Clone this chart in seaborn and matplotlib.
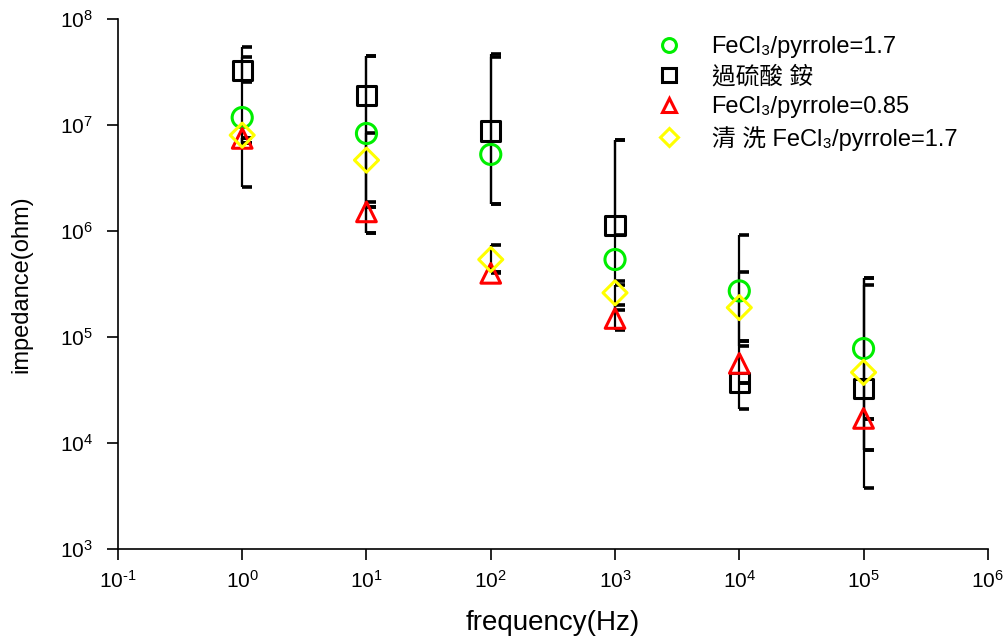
import matplotlib
matplotlib.use("Agg")
import matplotlib.pyplot as plt
import seaborn as sns
import numpy as np
import pandas as pd
from matplotlib.lines import Line2D
from matplotlib.ticker import LogLocator, NullLocator, FuncFormatter

# ---------------- data ----------------
freq = [1e0, 1e1, 1e2, 1e3, 1e4, 1e5]

labels = ["FeCl₃/pyrrole=1.7", "過硫酸 銨", "FeCl₃/pyrrole=0.85", "清 洗 FeCl₃/pyrrole=1.7"]

fecl3_17 = [1.18e7, 8.35e6, 5.3e6, 5.4e5, 2.73e5, 7.8e4]
aps = [3.3e7, 1.92e7, 8.8e6, 1.14e6, 3.7e4, 3.3e4]
fecl3_085 = [7.5e6, 1.52e6, 4.0e5, 1.5e5, 5.65e4, 1.71e4]
washed = [8.05e6, 4.68e6, 5.4e5, 2.62e5, 1.9e5, 4.65e4]

fecl3_17_lo = [2.6e6, 9.6e5, 1.8e6, 3.4e5, 8.2e4, 8.7e3]
fecl3_17_hi = [4.4e7, 8.35e6, 4.4e7, 7.3e6, 9.2e5, 3.65e5]
aps_lo = [2.55e7, 1.7e6, 1.8e6, 9.3e5, 2.1e4, 3.74e3]
aps_hi = [5.45e7, 4.48e7, 4.67e7, 7.3e6, 3.66e4, 3.65e5]
fecl3_085_lo = [6.8e6, 9.6e5, 4.0e5, 1.18e5, 3.66e4, 8.7e3]
fecl3_085_hi = [7.5e6, 1.89e6, 4.1e5, 2.0e5, 9.2e4, 1.68e4]
washed_lo = [6.8e6, 1.7e6, 4.1e5, 1.8e5, 9.2e4, 1.68e4]
washed_hi = [7.5e6, 4.48e7, 7.4e5, 3.1e5, 4.1e5, 3.1e5]

series = [
    (labels[0], fecl3_17, fecl3_17_lo, fecl3_17_hi, "o", "#00ee00", 210),
    (labels[1], aps, aps_lo, aps_hi, "s", "#000000", 190),
    (labels[2], fecl3_085, fecl3_085_lo, fecl3_085_hi, "^", "#ff0000", 200),
    (labels[3], washed, washed_lo, washed_hi, "D", "#ffff00", 150),
]

# ---------------- style ----------------
sns.set_theme(style="ticks")
plt.rcParams["font.family"] = ["Liberation Sans", "DejaVu Sans", "Noto Sans CJK TC"]
plt.rcParams["mathtext.fontset"] = "custom"
plt.rcParams["mathtext.rm"] = "Liberation Sans"
plt.rcParams["mathtext.it"] = "Liberation Sans:italic"
plt.rcParams["mathtext.bf"] = "Liberation Sans:bold"
plt.rcParams["axes.unicode_minus"] = False
plt.rcParams["text.color"] = "black"
plt.rcParams["axes.labelcolor"] = "black"
plt.rcParams["xtick.color"] = "black"
plt.rcParams["ytick.color"] = "black"

fig = plt.figure(figsize=(10.08, 6.4), dpi=100)
ax = fig.add_axes([0.117, 0.142, 0.863, 0.828])
ax.set_xscale("log")
ax.set_yscale("log")

cap_marker = [(0, 0), (1, 0)]

# error bars (black vertical lines with right-side caps)
for name, vals, lo, hi, m, c, s in series:
    ax.vlines(freq, lo, hi, color="black", linewidth=1.6, zorder=2)
    ax.plot(freq, lo, ls="none", marker=cap_marker, ms=15, mec="black", mew=2.6, zorder=2)
    ax.plot(freq, hi, ls="none", marker=cap_marker, ms=15, mec="black", mew=2.6, zorder=2)

# markers
for name, vals, lo, hi, m, c, s in series:
    df = pd.DataFrame({"freq": freq, "imp": vals})
    sns.scatterplot(data=df, x="freq", y="imp", ax=ax, marker=m, s=s,
                    facecolor="none", edgecolor=c, linewidth=2.2, zorder=3)

ax.set_xlim(1e-1, 1e6)
ax.set_ylim(1e3, 1e8)
ax.xaxis.set_major_locator(LogLocator(base=10, numticks=20))
ax.yaxis.set_major_locator(LogLocator(base=10, numticks=20))
ax.xaxis.set_minor_locator(NullLocator())
ax.yaxis.set_minor_locator(NullLocator())


def pow_fmt(v, pos):
    e = int(round(np.log10(v)))
    es = str(e).replace("-", r"\text{-}")
    return r"$\mathdefault{10^{%s}}$" % es


ax.xaxis.set_major_formatter(FuncFormatter(pow_fmt))
ax.yaxis.set_major_formatter(FuncFormatter(pow_fmt))

for sp in ["top", "right"]:
    ax.spines[sp].set_visible(False)
for sp in ["left", "bottom"]:
    ax.spines[sp].set_linewidth(1.2)
    ax.spines[sp].set_color("black")
ax.tick_params(axis="both", which="major", direction="out", length=8, width=1.2,
               labelsize=15, colors="black")
ax.tick_params(axis="y", pad=10)
ax.tick_params(axis="x", pad=7)

ax.set_xlabel("frequency(Hz)", fontsize=20, labelpad=13)
ax.set_ylabel("impedance(ohm)", fontsize=17, labelpad=20)

# legend
handles = []
for name, vals, lo, hi, m, c, s in series:
    handles.append(Line2D([], [], ls="none", marker=m, ms=10 if m != "D" else 9,
                          mfc="none", mec=c, mew=2.2))
leg = fig.legend(handles, labels, loc="upper left", bbox_to_anchor=(0.652, 0.943),
                 frameon=False, fontsize=17, handlelength=1.0, handletextpad=1.3,
                 labelspacing=0.32, borderpad=0, borderaxespad=0)

fig.savefig("out.png", dpi=100)
